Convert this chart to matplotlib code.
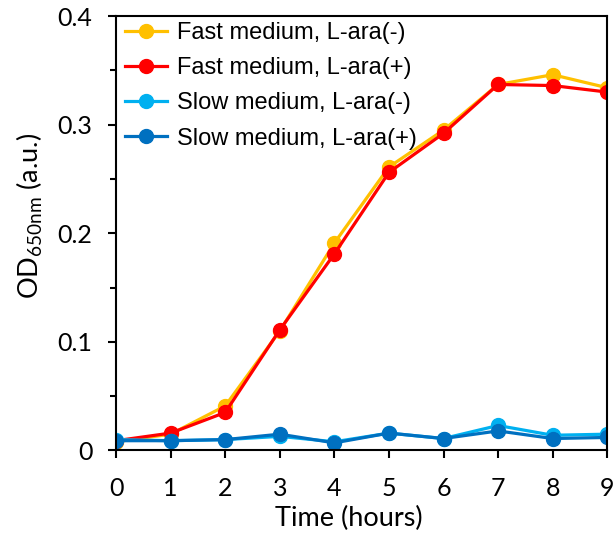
import numpy as np
import matplotlib.pyplot as plt
from matplotlib.ticker import MultipleLocator, FuncFormatter

plt.rcParams['font.family'] = ['Lato', 'DejaVu Sans']
plt.rcParams['mathtext.fontset'] = 'custom'
plt.rcParams['mathtext.rm'] = 'Lato'

hours = [0, 1, 2, 3, 4, 5, 6, 7, 8, 9]
fast_minus = [0.008, 0.015, 0.041, 0.110, 0.191, 0.261, 0.295, 0.337, 0.346, 0.334]
fast_plus = [0.009, 0.016, 0.035, 0.111, 0.181, 0.256, 0.292, 0.337, 0.336, 0.330]
slow_minus = [0.010, 0.009, 0.010, 0.013, 0.008, 0.016, 0.011, 0.023, 0.014, 0.015]
slow_plus = [0.009, 0.009, 0.010, 0.015, 0.007, 0.016, 0.011, 0.018, 0.011, 0.012]
labels = ["Fast medium, L-ara(-)", "Fast medium, L-ara(+)",
          "Slow medium, L-ara(-)", "Slow medium, L-ara(+)"]
colors = ["#FFC000", "#FF0000", "#00B0F0", "#0070C0"]

fig = plt.figure(figsize=(6.14, 5.35), dpi=100)
ax = fig.add_axes([0.189, 0.158, 0.800, 0.812])

for ys, lab, c in zip([fast_minus, fast_plus, slow_minus, slow_plus], labels, colors):
    ax.plot(hours, ys, color=c, lw=2.3, marker='o', ms=10, label=lab)

ax.set_xlim(0, 9)
ax.set_ylim(0, 0.4)
ax.xaxis.set_major_locator(MultipleLocator(1))
ax.yaxis.set_major_locator(MultipleLocator(0.1))
ax.yaxis.set_minor_locator(MultipleLocator(0.05))
ax.yaxis.set_major_formatter(FuncFormatter(lambda v, p: "0" if abs(v) < 1e-9 else f"{v:.1f}"))
ax.tick_params(axis='both', which='major', direction='out', length=6, width=1.5,
               labelsize=18, pad=11)
ax.tick_params(axis='x', which='major', pad=13)
ax.tick_params(axis='y', which='minor', direction='out', length=4, width=1.5)
for s in ax.spines.values():
    s.set_linewidth(1.5)

ax.set_xlabel("Time (hours)", fontsize=19.5)
ax.set_ylabel(r"OD$_{\mathregular{650nm}}$ (a.u.)", fontsize=19.5)
ax.xaxis.set_label_coords(0.4745, -0.128)
ax.yaxis.set_label_coords(-0.145, 0.54)

ax.legend(loc='upper left', frameon=False, handlelength=1.75, handletextpad=0.45,
          labelspacing=0.56, borderaxespad=0.0, bbox_to_anchor=(0.0, 1.008),
          prop={'family': 'Liberation Sans', 'size': 17})

fig.savefig("out.png", dpi=100)
